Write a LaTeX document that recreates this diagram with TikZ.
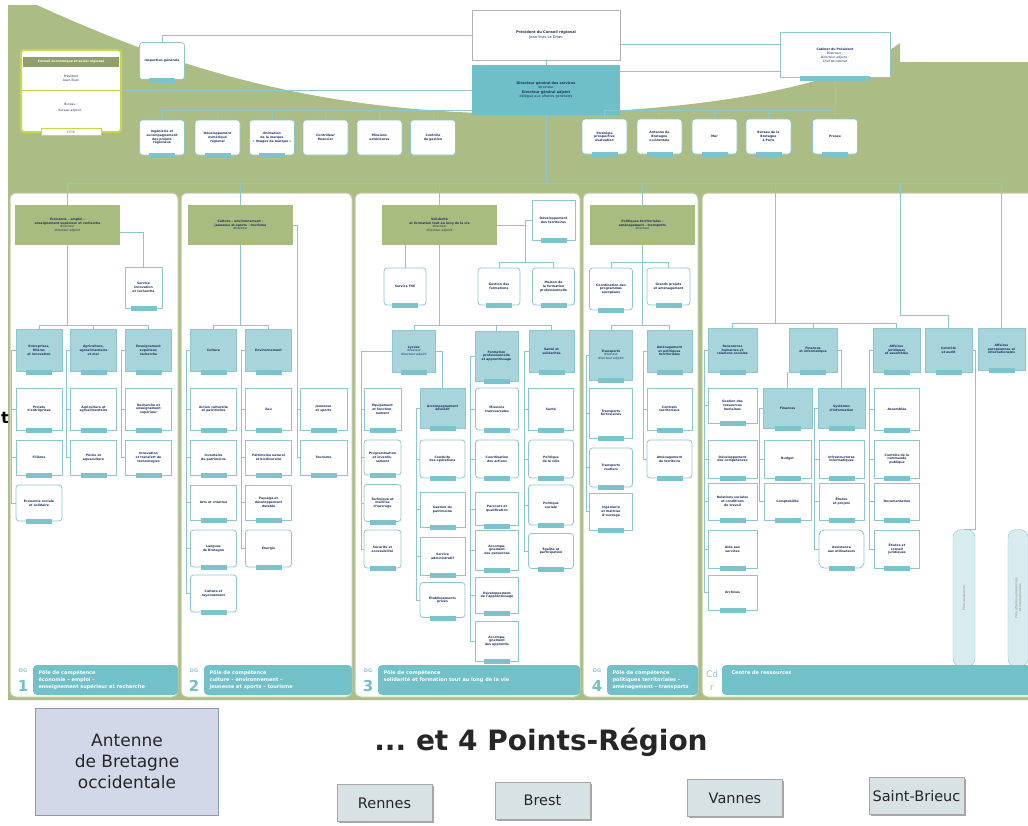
\documentclass[tikz,border=0pt]{standalone}
\usepackage{fontspec}
\setmainfont{DejaVu Sans}
\usepackage{tikz}
\usetikzlibrary{positioning,calc,shadows}
\frenchspacing

\definecolor{bgolive}{HTML}{ABBC84}
\definecolor{hdrgreen}{HTML}{A8BC80}
\definecolor{teallt}{HTML}{A8D5DB}
\definecolor{tealdk}{HTML}{6FBFC9}
\definecolor{tealln}{HTML}{8FC6CD}
\definecolor{tabteal}{HTML}{7DC3CB}
\definecolor{bandteal}{HTML}{72C0C8}
\definecolor{navyt}{HTML}{1F2F5C}
\definecolor{limeg}{HTML}{C6D94E}
\definecolor{antfill}{HTML}{D3D8E8}
\definecolor{antline}{HTML}{8C98B6}
\definecolor{cityfill}{HTML}{D8E2E5}

\newcommand{\tinyf}{\fontsize{3.1}{3.7}\selectfont}

\tikzset{
  conn/.style={draw=tealln, line width=0.7pt},
  hdr/.style={fill=hdrgreen, rectangle, minimum width=105, minimum height=40, align=center, font=\tinyf, text=navyt},
  tbox/.style={draw=tealln, fill=teallt, rectangle, minimum width=46, minimum height=42, align=center, font=\tinyf, text=navyt, inner sep=1pt},
  wbox/.style={draw=tealln, fill=white, rounded corners=3, line width=0.8pt, minimum width=46, minimum height=40, align=center, font=\tinyf, text=navyt, inner sep=1pt},
  panel/.style={draw=bgolive!75!white, fill=white, rounded corners=6, line width=1pt},
  band/.style={fill=bandteal, rounded corners=4},
  foot/.style={anchor=west, align=left, text=white, font=\bfseries\fontsize{5}{7}\selectfont},
  city/.style={draw=gray!70, fill=cityfill, minimum width=95, minimum height=37, font=\fontsize{14.5}{17}\selectfont, text=black!85, drop shadow={shadow xshift=1.5pt, shadow yshift=-1.5pt, fill=gray!70, opacity=1}},
}

\begin{document}
\begin{tikzpicture}[x=1pt, y=-1pt]
  \useasboundingbox (0,0) rectangle (1028,825);
  \fill[white] (0,0) rectangle (1028,825);
  \fill[bgolive] (8,5) -- (37,5) .. controls (200,80) and (340,112) .. (520,114) .. controls (700,112) and (840,88) .. (900,43) -- (900,62) -- (1028,62) -- (1028,700) -- (8,700) -- cycle;

  % column panels
  \draw[panel] (10,193) rectangle (178,697);
  \draw[panel] (181,193) rectangle (352,697);
  \draw[panel] (355,193) rectangle (580,697);
  \draw[panel] (583,193) rectangle (698,697);
  \draw[panel] (702,193) rectangle (1034,697);

  % top of the chart
  \node[draw=gray!60, fill=white, minimum width=148, minimum height=50, align=center, font=\fontsize{3.6}{4.4}\selectfont, text=navyt] (pres) at (546,35) {\textbf{Président du Conseil régional}\\Jean-Yves Le Drian};
  \node[fill=tealdk, minimum width=148, minimum height=50, align=center, font=\fontsize{3.4}{4.2}\selectfont, text=navyt] (dgs) at (546,90) {\textbf{Directeur général des services}\\directeur\\[1pt]\textbf{Directeur général adjoint}\\délégué aux affaires générales};
  \node[wbox, minimum width=45, minimum height=37] (insp) at (162,61) {\textbf{Inspection générale}};

  \node[draw=limeg, line width=2pt, fill=white, rounded corners=3, minimum width=100, minimum height=82] (cesr) at (71,91) {};
  \node[fill=hdrgreen!85!black, text=white, font=\tinyf\bfseries, minimum width=96, minimum height=9] (cesrhd) at (71,62) {Conseil économique et social régional};
  \node[font=\tinyf, align=center, text=navyt] (cesrpr) at (71,78) {Président\\Alain Even};
  \draw[limeg, line width=1pt] ($(cesr.west)+(1,-1)$) -- ($(cesr.east)+(-1,-1)$);
  \node[font=\tinyf, align=center, text=navyt] (cesrbu) at (71,108) {Bureau :\\[2pt]Bureau adjoint :};
  \node[draw=limeg, fill=white, minimum width=60, minimum height=7, inner sep=0pt, font=\tinyf, text=limeg!60!black] (cesrtab) at (71,132) {CESR};

  \node[wbox, rounded corners=0, minimum width=110, minimum height=45] (cab) at (835,55) {\textbf{Cabinet du Président}\\[1pt]Directeur :\\Directeur adjoint :\\Chef de cabinet};

  % staff row
  \node[wbox, minimum width=45, minimum height=35] (s1) at (162,137.5) {\textbf{Ingénierie et}\\\textbf{accompagnement}\\\textbf{des projets}\\\textbf{régionaux}};
  \node[wbox, minimum width=45, minimum height=35] (s2) at (217.5,137.5) {\textbf{Développement}\\\textbf{numérique}\\\textbf{régional}};
  \node[wbox, minimum width=45, minimum height=35] (s3) at (272,137.5) {\textbf{Animation}\\\textbf{de la marque}\\\textbf{« Images de marque »}};
  \node[wbox, minimum width=45, minimum height=35] (s4) at (325.5,137.5) {\textbf{Contrôleur}\\\textbf{financier}};
  \node[wbox, minimum width=45, minimum height=35] (s5) at (379.5,137.5) {\textbf{Missions}\\\textbf{extérieures}};
  \node[wbox, minimum width=45, minimum height=35] (s6) at (433,137.5) {\textbf{Contrôle}\\\textbf{de gestion}};
  \node[wbox, minimum width=45, minimum height=35] (r1) at (604.5,136.5) {\textbf{Stratégie}\\\textbf{prospective}\\\textbf{évaluation}};
  \node[wbox, minimum width=45, minimum height=35] (r2) at (659.5,136.5) {\textbf{Antenne de}\\\textbf{Bretagne}\\\textbf{occidentale}};
  \node[wbox, minimum width=45, minimum height=35] (r3) at (714.5,136.5) {\textbf{Mer}};
  \node[wbox, minimum width=45, minimum height=35] (r4) at (768.5,136.5) {\textbf{Bureau de la}\\\textbf{Bretagne}\\\textbf{à Paris}};
  \node[wbox, minimum width=45, minimum height=35] (r5) at (835,136.5) {\textbf{Presse}};

  \draw[conn] (pres.west) -| (insp.north);
  \draw[conn] ([yshift=-9pt]pres.east) -- ([yshift=-9pt]pres.east -| cab.west);
  \draw[conn] ([yshift=19pt]dgs.east) -- ([yshift=19pt]dgs.east -| cab.west);
  \draw[conn] (pres.south) -- (dgs.north);
  \draw[conn] (dgs.west) -- (dgs.west -| cesr.east);
  \foreach \s in {s1,s2,s3,s4,s5,s6}
    \draw[conn] ([yshift=-20pt]dgs.west) -| (\s.north);
  \foreach \s in {r1,r2,r3,r4,r5}
    \draw[conn] ([yshift=-20pt]dgs.east) -| (\s.north);
  \draw[conn] (cab.south) -- (r5.north);

  % DG 1
  \node[hdr] (h1) at (67.5,225) {\textbf{Économie – emploi –}\\\textbf{enseignement supérieur et recherche}\\directeur\\directeur adjoint};
  \node[wbox, rounded corners=0, minimum width=37, minimum height=41] (s1x) at (143.5,287.5) {\textbf{Service}\\\textbf{innovation}\\\textbf{et recherche}};
  \node[tbox] (t11) at (39,350.5) {\textbf{Entreprises,}\\\textbf{filières}\\\textbf{et innovation}};
  \node[tbox] (t12) at (93.5,350.5) {\textbf{Agriculture,}\\\textbf{agroalimentaire}\\\textbf{et mer}};
  \node[tbox] (t13) at (148.5,350.5) {\textbf{Enseignement}\\\textbf{supérieur,}\\\textbf{recherche}};
  \node[wbox, rounded corners=0, minimum height=42] (c111) at (39,409) {\textbf{Projets}\\\textbf{d'entreprises}};
  \node[wbox, rounded corners=0, minimum height=35] (c112) at (39,457.5) {\textbf{Filières}};
  \node[wbox, minimum height=36] (c113) at (39,503) {\textbf{Économie sociale}\\\textbf{et solidaire}};
  \node[wbox, rounded corners=0, minimum height=42] (c121) at (93.5,409) {\textbf{Agriculture et}\\\textbf{agroalimentaire}};
  \node[wbox, rounded corners=0, minimum height=35] (c122) at (93.5,457.5) {\textbf{Pêche et}\\\textbf{aquaculture}};
  \node[wbox, rounded corners=0, minimum height=42] (c131) at (148.5,409) {\textbf{Recherche et}\\\textbf{enseignement}\\\textbf{supérieur}};
  \node[wbox, rounded corners=0, minimum height=35] (c132) at (148.5,457.5) {\textbf{Innovation}\\\textbf{et transfert de}\\\textbf{technologies}};

  \draw[conn] (dgs.south) -- ++(0,68) -| (h1.north);
  \draw[conn] ([yshift=-7pt]h1.east) -| (s1x.north);
  \foreach \t in {t11,t12,t13}
    \draw[conn] (h1.south) -- ++(0,80) -| (\t.north);
  \foreach \c in {c111,c112,c113}
    \draw[conn] (t11.west) -- ++(-4,0) |- (\c.west);
  \foreach \c in {c121,c122}
    \draw[conn] (t12.west) -- ++(-4,0) |- (\c.west);
  \foreach \c in {c131,c132}
    \draw[conn] (t13.west) -- ++(-4,0) |- (\c.west);

  % DG 2
  \node[hdr] (h2) at (240.5,225) {\textbf{Culture – environnement –}\\\textbf{jeunesse et sports – tourisme}\\directeur};
  \node[wbox, rounded corners=0, minimum width=47, minimum height=42] (s21) at (323.5,409) {\textbf{Jeunesse}\\\textbf{et sports}};
  \node[wbox, rounded corners=0, minimum width=47, minimum height=35] (s22) at (323.5,457.5) {\textbf{Tourisme}};
  \node[tbox] (t21) at (213.5,350.5) {\textbf{Culture}};
  \node[tbox] (t22) at (268.5,350.5) {\textbf{Environnement}};
  \node[wbox, rounded corners=0, minimum height=42] (c211) at (213.5,409) {\textbf{Action culturelle}\\\textbf{et patrimoine}};
  \node[wbox, rounded corners=0, minimum height=35] (c212) at (213.5,457.5) {\textbf{Inventaire}\\\textbf{du patrimoine}};
  \node[wbox, rounded corners=0, minimum height=35] (c213) at (213.5,502.5) {\textbf{Arts et création}};
  \node[wbox, minimum height=37] (c214) at (213.5,548.5) {\textbf{Langues}\\\textbf{de Bretagne}};
  \node[wbox, minimum height=37] (c215) at (213.5,593.5) {\textbf{Culture et}\\\textbf{rayonnement}};
  \node[wbox, rounded corners=0, minimum height=42] (c221) at (268.5,409) {\textbf{Eau}};
  \node[wbox, rounded corners=0, minimum height=35] (c222) at (268.5,457.5) {\textbf{Patrimoine naturel}\\\textbf{et biodiversité}};
  \node[wbox, rounded corners=0, minimum height=35] (c223) at (268.5,502.5) {\textbf{Paysage et}\\\textbf{développement}\\\textbf{durable}};
  \node[wbox, minimum height=37] (c224) at (268.5,548.5) {\textbf{Énergie}};

  \draw[conn] (dgs.south) -- ++(0,68) -| (h2.north);
  \foreach \c in {s21,s22}
    \draw[conn] (h2.east) -- ++(4,0) |- (\c.west);
  \foreach \t in {t21,t22}
    \draw[conn] (h2.south) -- ++(0,80) -| (\t.north);
  \foreach \c in {c211,c212,c213,c214,c215}
    \draw[conn] (t21.west) -- ++(-4,0) |- (\c.west);
  \foreach \c in {c221,c222,c223,c224}
    \draw[conn] (t22.west) -- ++(-4,0) |- (\c.west);

  % DG 3
  \node[hdr, minimum width=115] (h3) at (439.5,225) {\textbf{Solidarité}\\\textbf{et formation tout au long de la vie}\\directeur\\directeur adjoint};
  \node[wbox, rounded corners=0, minimum width=43, minimum height=40] (s31) at (553.5,220) {\textbf{Développement}\\\textbf{des territoires}};
  \node[wbox, minimum width=42, minimum height=37] (fse) at (405,286.5) {\textbf{Service FSE}};
  \node[wbox, minimum width=42, minimum height=37] (g31) at (499,286.5) {\textbf{Gestion des}\\\textbf{formations}};
  \node[wbox, minimum width=42, minimum height=37] (g32) at (553.5,286.5) {\textbf{Maison de}\\\textbf{la formation}\\\textbf{professionnelle}};
  \node[tbox, minimum width=43] (t31) at (414,351) {\textbf{Lycées}\\directeur\\directeur adjoint};
  \node[tbox, minimum width=43, minimum height=50] (t32) at (496.5,356) {\textbf{Formation}\\\textbf{professionnelle}\\\textbf{et apprentissage}};
  \node[tbox, minimum width=45] (t33) at (551.5,351) {\textbf{Santé et}\\\textbf{solidarités}};
  \node[wbox, rounded corners=0, minimum width=37, minimum height=42] (l1) at (382.5,409) {\textbf{Équipement}\\\textbf{et fonction-}\\\textbf{nement}};
  \node[wbox, minimum width=37, minimum height=35] (l2) at (382.5,457.5) {\textbf{Programmation}\\\textbf{et investis-}\\\textbf{sement}};
  \node[wbox, minimum width=37, minimum height=37] (l3) at (382.5,503) {\textbf{Technique et}\\\textbf{maîtrise}\\\textbf{d'ouvrage}};
  \node[wbox, minimum width=37, minimum height=38] (l4) at (382.5,549) {\textbf{Sécurité et}\\\textbf{accessibilité}};
  \node[tbox, minimum width=45, minimum height=40] (a1) at (442.5,408) {\textbf{Accompagnement}\\\textbf{éducatif}};
  \node[wbox, minimum width=45, minimum height=38] (a2) at (442.5,459) {\textbf{Conduite}\\\textbf{des opérations}};
  \node[wbox, rounded corners=0, minimum width=45, minimum height=35] (a3) at (442.5,509.5) {\textbf{Gestion du}\\\textbf{patrimoine}};
  \node[wbox, rounded corners=0, minimum width=45, minimum height=38] (a4) at (442.5,556) {\textbf{Service}\\\textbf{administratif}};
  \node[wbox, minimum width=45, minimum height=35] (a5) at (442.5,600) {\textbf{Établissements}\\\textbf{privés}};
  \node[wbox, minimum width=43, minimum height=42] (f1) at (497,409) {\textbf{Missions}\\\textbf{transversales}};
  \node[wbox, minimum width=43, minimum height=38] (f2) at (497,459) {\textbf{Coordination}\\\textbf{des actions}};
  \node[wbox, rounded corners=0, minimum width=43, minimum height=33] (f3) at (497,509) {\textbf{Parcours et}\\\textbf{qualification}};
  \node[wbox, rounded corners=0, minimum width=43, minimum height=40] (f4) at (497,550) {\textbf{Accompa-}\\\textbf{gnement}\\\textbf{des personnes}};
  \node[wbox, rounded corners=0, minimum width=43, minimum height=36] (f5) at (497,595) {\textbf{Développement}\\\textbf{de l'apprentissage}};
  \node[wbox, rounded corners=0, minimum width=43, minimum height=40] (f6) at (497,641) {\textbf{Accompa-}\\\textbf{gnement}\\\textbf{des apprentis}};
  \node[wbox, rounded corners=0, minimum width=45, minimum height=42] (p1) at (551,409) {\textbf{Santé}};
  \node[wbox, minimum width=45, minimum height=38] (p2) at (551,459) {\textbf{Politique}\\\textbf{de la ville}};
  \node[wbox, minimum width=45, minimum height=40] (p3) at (551,505) {\textbf{Politique}\\\textbf{sociale}};
  \node[wbox, minimum width=45, minimum height=35] (p4) at (551,551) {\textbf{Égalité et}\\\textbf{participation}};

  \draw[conn] (dgs.south) -- ++(0,68) -| (h3.north);
  \draw[conn] (h3.east) -- ++(28,0) |- (s31.west);
  \foreach \g in {g31,g32}
    \draw[conn] (h3.east) -- ++(28,0) -- ++(0,37) -| (\g.north);
  \draw[conn] ([xshift=-34.5pt]h3.south) -- (fse.north);
  \foreach \t in {t31,t32,t33}
    \draw[conn] (h3.south) -- ++(0,80) -| (\t.north);
  \foreach \c in {l1,l2,l3,l4}
    \draw[conn] (t31.west) -- ++(-31,0) |- (\c.west);
  \draw[conn] (t31.east) -| (a1.north);
  \foreach \c in {a2,a3,a4,a5}
    \draw[conn] (a1.west) -- ++(-3,0) |- (\c.west);
  \foreach \c in {f1,f2,f3,f4,f5,f6}
    \draw[conn] (t32.west) -- ++(-4,0) |- (\c.west);
  \foreach \c in {p1,p2,p3,p4}
    \draw[conn] (t33.west) -- ++(-4,0) |- (\c.west);

  % DG 4
  \node[hdr] (h4) at (642.5,225) {\textbf{Politiques territoriales –}\\\textbf{aménagement – transports}\\directeur};
  \node[wbox, minimum width=43, minimum height=42] (k1) at (611,289) {\textbf{Coordination des}\\\textbf{programmes}\\\textbf{européens}};
  \node[wbox, minimum width=43, minimum height=37] (k2) at (668.5,286.5) {\textbf{Grands projets}\\\textbf{et aménagement}};
  \node[tbox, minimum width=43, minimum height=50] (t41) at (611,355) {\textbf{Transports}\\directeur\\directeur adjoint};
  \node[tbox, minimum width=45] (t42) at (669.5,351) {\textbf{Aménagement}\\\textbf{et politiques}\\\textbf{territoriales}};
  \node[wbox, rounded corners=0, minimum width=43, minimum height=50] (q1) at (611,413) {\textbf{Transports}\\\textbf{ferroviaires}};
  \node[wbox, minimum width=43, minimum height=39] (q2) at (611,467.5) {\textbf{Transports}\\\textbf{routiers}};
  \node[wbox, rounded corners=0, minimum width=43, minimum height=37] (q3) at (611,511.5) {\textbf{Ingénierie}\\\textbf{et maîtrise}\\\textbf{d'ouvrage}};
  \node[wbox, rounded corners=0, minimum width=45, minimum height=42] (q4) at (669.5,409) {\textbf{Contrats}\\\textbf{territoriaux}};
  \node[wbox, minimum width=45, minimum height=38] (q5) at (669.5,459) {\textbf{Aménagement}\\\textbf{du territoire}};

  \draw[conn] (dgs.south) -- ++(0,68) -| (h4.north);
  \foreach \k in {k1,k2}
    \draw[conn] (h4.south) -- ++(0,17) -| (\k.north);
  \foreach \t in {t41,t42}
    \draw[conn] (h4.south) -- ++(0,80) -| (\t.north);
  \foreach \c in {q1,q2,q3}
    \draw[conn] (t41.west) -- ++(-3,0) |- (\c.west);
  \foreach \c in {q4,q5}
    \draw[conn] (t42.west) -- ++(-3,0) |- (\c.west);

  % centre de ressources
  \node[tbox, minimum width=49, minimum height=44] (ra) at (732.5,350) {\textbf{Ressources}\\\textbf{humaines et}\\\textbf{relations sociales}};
  \node[tbox, minimum width=48, minimum height=44] (rb) at (813,350) {\textbf{Finances}\\\textbf{et informatique}};
  \node[tbox, minimum width=47, minimum height=44] (rc) at (896.5,350) {\textbf{Affaires}\\\textbf{juridiques}\\\textbf{et assemblée}};
  \node[tbox, minimum width=47, minimum height=44] (rd) at (948.5,350) {\textbf{Contrôle}\\\textbf{et audit}};
  \node[tbox, minimum width=47, minimum height=42] (re) at (1001.5,349) {\textbf{Affaires}\\\textbf{européennes et}\\\textbf{internationales}};
  \node[wbox, rounded corners=0, minimum width=49, minimum height=35] (e1) at (732.5,405.5) {\textbf{Gestion des}\\\textbf{ressources}\\\textbf{humaines}};
  \node[wbox, rounded corners=0, minimum width=49, minimum height=38] (e2) at (732.5,459) {\textbf{Développement}\\\textbf{des compétences}};
  \node[wbox, rounded corners=0, minimum width=49, minimum height=37] (e3) at (732.5,501.5) {\textbf{Relations sociales}\\\textbf{et conditions}\\\textbf{de travail}};
  \node[wbox, rounded corners=0, minimum width=49, minimum height=38] (e4) at (732.5,549) {\textbf{Aide aux}\\\textbf{services}};
  \node[wbox, rounded corners=0, minimum width=49, minimum height=35] (e5) at (732.5,592.5) {\textbf{Archives}};
  \node[tbox, minimum width=49, minimum height=40] (fb1) at (787.5,408) {\textbf{Finances}};
  \node[tbox, minimum width=47, minimum height=40] (fb2) at (841.5,408) {\textbf{Systèmes}\\\textbf{d'information}};
  \node[wbox, rounded corners=0, minimum width=47, minimum height=38] (b1) at (787.5,459) {\textbf{Budget}};
  \node[wbox, rounded corners=0, minimum width=47, minimum height=37] (b2) at (787.5,501.5) {\textbf{Comptabilité}};
  \node[wbox, rounded corners=0, minimum width=45, minimum height=38] (b3) at (841.5,459) {\textbf{Infrastructures}\\\textbf{informatiques}};
  \node[wbox, rounded corners=0, minimum width=45, minimum height=37] (b4) at (841.5,501.5) {\textbf{Études}\\\textbf{et projets}};
  \node[wbox, rounded corners=5, minimum width=45, minimum height=38] (b5) at (841.5,549) {\textbf{Assistance}\\\textbf{aux utilisateurs}};
  \node[wbox, rounded corners=0, minimum width=45, minimum height=42] (j1) at (897,409) {\textbf{Assemblée}};
  \node[wbox, rounded corners=0, minimum width=45, minimum height=38] (j2) at (897,459) {\textbf{Contrôle de la}\\\textbf{commande}\\\textbf{publique}};
  \node[wbox, rounded corners=0, minimum width=45, minimum height=37] (j3) at (897,501.5) {\textbf{Documentation}};
  \node[wbox, rounded corners=0, minimum width=45, minimum height=38] (j4) at (897,549) {\textbf{Études et}\\\textbf{conseil}\\\textbf{juridiques}};
  \node[fill=teallt!45!white, draw=tealln, rounded corners=8, rotate=90, minimum width=137, minimum height=22, font=\tinyf, text=gray] (tabp1) at (964,598) {Pôle ressources};
  \node[fill=teallt!45!white, draw=tealln, rounded corners=8, rotate=90, minimum width=137, minimum height=20, font=\tinyf, text=gray, align=center] (tabp2) at (1018,598) {Pôle affaires européennes\\et internationales};

  \coordinate (fin) at (775,323);
  \coordinate (cdrk) at (900,315);
  \draw[conn] (dgs.south) -- ++(0,68) -| (fin);
  \foreach \r in {ra,rb,rc}
    \draw[conn] (fin) -| (\r.north);
  \draw[conn] (dgs.south) -- ++(0,68) -| (cdrk) -| (rd.north);
  \draw[conn] (dgs.south) -- ++(0,68) -| (re.north);
  \draw[conn] (rd.east) -- ++(3,0) |- (tabp1.east);
  \foreach \c in {e1,e2,e3,e4,e5}
    \draw[conn] (ra.west) -- ++(-3,0) |- (\c.west);
  \draw[conn] ([xshift=-25.5pt]rb.south) -- (fb1.north);
  \draw[conn] (rb.east) -| (fb2.north);
  \foreach \c in {b1,b2}
    \draw[conn] (fb1.west) -- ++(-3,0) |- (\c.west);
  \foreach \c in {b3,b4,b5}
    \draw[conn] (fb2.west) -- ++(-3,0) |- (\c.west);
  \foreach \c in {j1,j2,j3,j4}
    \draw[conn] (rc.west) -- ++(-3,0) |- (\c.west);

  % small tabs under the boxes
  \foreach \n in {insp,s1,s2,s3,r1,r2,r3,r4,r5,s1x,t11,t12,t13,c111,c112,c113,c121,c122,c131,c132,
                  s21,s22,t21,t22,c211,c212,c213,c214,c215,c221,c222,c223,c224,
                  s31,fse,g31,g32,t31,t32,t33,l1,l2,l3,l4,a1,a2,a3,a4,a5,f1,f2,f3,f4,f5,f6,p1,p2,p3,p4,
                  k1,k2,t41,t42,q1,q2,q3,q4,q5,
                  ra,rb,rc,rd,re,e1,e2,e3,e4,e5,fb1,fb2,b1,b2,b3,b4,b5,j1,j2,j3,j4}
    \fill[tabteal] ($(\n.south)+(-13,-2)$) rectangle ($(\n.south)+(13,3)$);
  \fill[tabteal] ($(cab.south)+(-35,-2)$) rectangle ($(cab.south)+(35,3)$);

  % footers of the poles
  \fill[band] (33,665) rectangle (178,695);
  \fill[band] (204,665) rectangle (352,695);
  \fill[band] (378,665) rectangle (580,695);
  \fill[band] (607,665) rectangle (698,695);
  \fill[band] (722,665) rectangle (1034,695);
  \foreach \x/\d in {23/1,194/2,368/3,597/4} {
    \node[font=\bfseries\fontsize{5}{5}\selectfont, text=tealln] at (\x,671) {DG};
    \node[font=\bfseries\fontsize{15}{15}\selectfont, text=bandteal] at (\x,686) {\d};
  }
  \node[font=\fontsize{9}{9}\selectfont, text=tealln] (cdr1) at (712,674) {Cd};
  \node[font=\fontsize{9}{9}\selectfont, text=tealln] (cdr2) at (712,688) {r};
  \node[foot] (ft1) at (35,680) {Pôle de compétence\\économie – emploi –\\enseignement supérieur et recherche};
  \node[foot] (ft2) at (206,680) {Pôle de compétence\\culture – environnement –\\jeunesse et sports – tourisme};
  \node[foot] (ft3) at (380,676.5) {Pôle de compétence\\solidarité et formation tout au long de la vie};
  \node[foot] (ft4) at (609,680) {Pôle de compétence\\politiques territoriales –\\aménagement – transports};
  \node[foot] (ft5) at (728,673) {Centre de ressources};

  \node[anchor=east, inner sep=0pt, font=\bfseries\fontsize{16}{16}\selectfont] (tcut) at (9,418) {t};

  % antenne et points-region
  \node[draw=antline, fill=antfill, minimum width=183, minimum height=107, align=center, font=\fontsize{17}{21}\selectfont, text=black!85] (ant) at (127,761.5) {Antenne\\de Bretagne\\occidentale};
  \node[font=\bfseries\fontsize{28}{30}\selectfont, text=black!85] (pts) at (541,742) {... et 4 Points-Région};
  \node[city] (rennes) at (384.5,803) {Rennes};
  \node[city] (brest) at (542.5,800.5) {Brest};
  \node[city] (vannes) at (735,798) {Vannes};
  \node[city] (stbrieuc) at (916.5,796) {Saint-Brieuc};
\end{tikzpicture}
\end{document}
